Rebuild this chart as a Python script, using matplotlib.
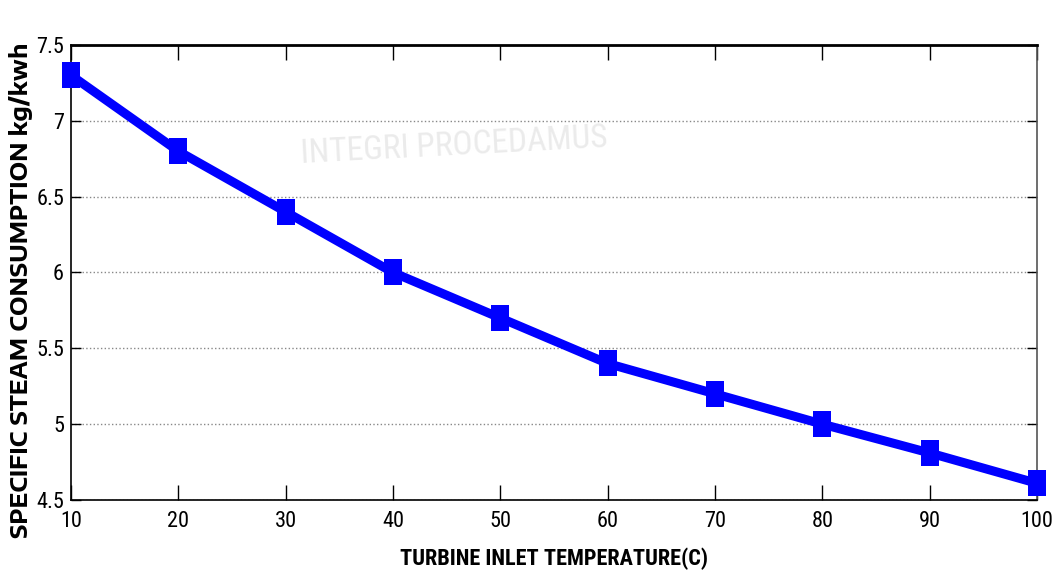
import matplotlib
matplotlib.use("Agg")
import matplotlib.pyplot as plt
from matplotlib.path import Path

temperature = [10, 20, 30, 40, 50, 60, 70, 80, 90, 100]
steam_consumption = [7.3, 6.8, 6.4, 6.0, 5.7, 5.4, 5.2, 5.0, 4.81, 4.61]
x_ticks = [10, 20, 30, 40, 50, 60, 70, 80, 90, 100]
y_ticks = [4.5, 5, 5.5, 6, 6.5, 7, 7.5]

NARROW = ["Roboto Condensed", "DejaVu Sans"]
WIDE = ["Encode Sans Semi Expanded", "Liberation Sans", "DejaVu Sans"]

fig = plt.figure(figsize=(10.55, 5.73), dpi=100)
ax = fig.add_axes([0.0673, 0.1274, 0.9157, 0.7941])

# faint watermark
fig.text(0.43, 0.745, "INTEGRI PROCEDAMUS", fontsize=24, color="#ebebeb",
         ha="center", va="center", family=NARROW, rotation=3, zorder=0)

tall_square = Path([(-1, -1.5), (1, -1.5), (1, 1.5), (-1, 1.5), (-1, -1.5)],
                   [Path.MOVETO, Path.LINETO, Path.LINETO, Path.LINETO, Path.CLOSEPOLY])
ax.plot(temperature, steam_consumption, color="#0000ff", linewidth=6.5,
        marker=tall_square, markersize=18.5, markeredgewidth=0, zorder=3,
        clip_on=False)

ax.set_xlim(10, 100)
ax.set_ylim(4.5, 7.5)
ax.set_xticks(x_ticks)
ax.set_yticks(y_ticks)
ax.set_xticklabels([str(v) for v in x_ticks], family=NARROW, fontsize=16)
ax.set_yticklabels([f"{v:g}" for v in y_ticks], family=NARROW, fontsize=16)
ax.tick_params(axis="x", direction="in", length=11, width=1, top=True, pad=8)
ax.tick_params(axis="y", direction="in", length=7, width=1, right=True, pad=5)
ax.yaxis.grid(True, linestyle=":", color="#888888", linewidth=1)
ax.set_axisbelow(True)
for s in ax.spines.values():
    s.set_linewidth(1.2)
ax.spines["top"].set_linewidth(2)
ax.spines["right"].set_color("#555555")

ax.set_xlabel("TURBINE INLET TEMPERATURE(C)", family=NARROW, fontweight="bold",
              fontsize=16, labelpad=11)
fig.text(21 / 1055, 1 - 290 / 573, "SPECIFIC STEAM CONSUMPTION kg/kwh",
         family=WIDE, fontweight="bold", fontsize=16.8, rotation=90,
         ha="center", va="center")

fig.savefig("out.png", dpi=100)
